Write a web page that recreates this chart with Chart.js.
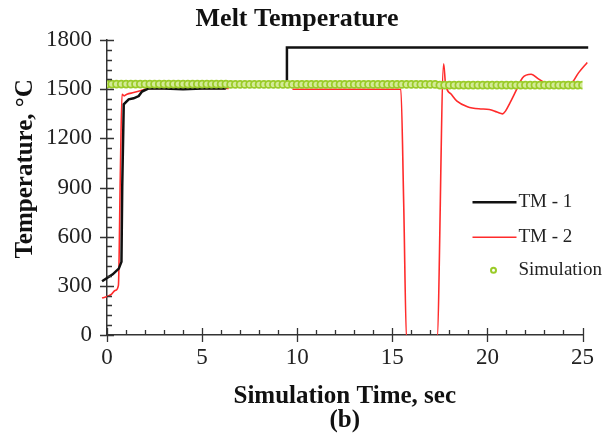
<!DOCTYPE html>
<html>
<head>
<meta charset="utf-8">
<script src="https://cdn.jsdelivr.net/npm/chart.js@4.4.1/dist/chart.umd.min.js"></script>
<style>
  html, body { margin: 0; padding: 0; background: #fff; }
  #wrap { width: 603px; height: 439px; }
</style>
</head>
<body>
<div id="wrap"><canvas id="melt"></canvas></div>
<script>
// TM - 1 thermocouple (black)
const tm1Time = [-0.26, 0.3, 0.62, 0.76, 0.8, 0.88, 1.14, 1.4, 1.67, 1.84, 2.19, 3.0, 4.0, 5.0, 6.2, 6.4, 9.45, 9.46, 25.3];
const tm1Temp = [328, 370, 405, 446, 900, 1408, 1439, 1445, 1459, 1486, 1506, 1505, 1500, 1505, 1505, 1530, 1530, 1755, 1755];

// TM - 2 thermocouple (red), null = gap in the record
const tm2Time = [-0.26, 0.2, 0.44, 0.6, 0.7, 0.79, 0.9, 1.05, 1.4, 1.84, 2.19, 4.0, 6.4, 8.0, 9.75, 15.45, 15.6, 15.75, 17.35, 17.7, 17.8, 18.1, 18.4, 18.95, 19.55, 20.1, 20.5, 20.8, 20.95, 21.2, 21.5, 21.85, 22.3, 22.7, 23.1, 23.8, 24.4, 24.8, 25.25];
const tm2Temp = [225, 245, 272, 303, 978, 1470, 1460, 1470, 1480, 1494, 1506, 1505, 1505, null, 1500, 1500, 800, -30, -30, 1656, 1531, 1470, 1428, 1394, 1381, 1377, 1361, 1350, 1367, 1420, 1490, 1571, 1592, 1562, 1535, 1520, 1535, 1602, 1664];

// Simulation (green circles)
const simTime = [
  0, 0.25, 0.5, 0.75, 1, 1.25, 1.5, 1.75, 2, 2.25, 2.5, 2.75, 3, 3.25, 3.5, 3.75, 4, 4.25, 4.5, 4.75,
  5, 5.25, 5.5, 5.75, 6, 6.25, 6.5, 6.75, 7, 7.25, 7.5, 7.75, 8, 8.25, 8.5, 8.75, 9, 9.25, 9.5, 9.75,
  10, 10.25, 10.5, 10.75, 11, 11.25, 11.5, 11.75, 12, 12.25, 12.5, 12.75, 13, 13.25, 13.5, 13.75, 14, 14.25, 14.5, 14.75,
  15, 15.25, 15.5, 15.75, 16, 16.25, 16.5, 16.75, 17, 17.25, 17.5, 17.75, 18, 18.25, 18.5, 18.75, 19, 19.25, 19.5, 19.75,
  20, 20.25, 20.5, 20.75, 21, 21.25, 21.5, 21.75, 22, 22.25, 22.5, 22.75, 23, 23.25, 23.5, 23.75, 24, 24.25, 24.5, 24.75, 25
];
const simTemp = [
  1532, 1532, 1532, 1532, 1532, 1532, 1532, 1532, 1532, 1532, 1532, 1532, 1532, 1532, 1532, 1532, 1532, 1532, 1532, 1532,
  1532, 1532, 1532, 1532, 1532, 1532, 1530, 1530, 1530, 1530, 1530, 1530, 1530, 1530, 1530, 1530, 1530, 1530, 1530, 1530,
  1530, 1530, 1530, 1530, 1530, 1530, 1530, 1530, 1530, 1530, 1530, 1530, 1530, 1530, 1530, 1530, 1530, 1530, 1530, 1530,
  1530, 1530, 1530, 1530, 1530, 1530, 1530, 1530, 1530, 1530, 1526, 1526, 1526, 1526, 1526, 1526, 1526, 1526, 1526, 1526,
  1526, 1526, 1526, 1526, 1526, 1526, 1526, 1526, 1526, 1526, 1526, 1526, 1526, 1526, 1526, 1526, 1526, 1526, 1526, 1526, 1526
];

const serif = "'Liberation Serif', 'Times New Roman', serif";

function pairs(xs, ys) {
    return xs.map((t, i) => ({ x: t, y: ys[i] }));
}

// cross ticks (major) and inside ticks (minor), like the original plot
const axisTicks = {
    id: 'axisTicks',
    afterDraw(chart) {
        const { ctx, chartArea: a, scales } = chart;
        const x = scales.x, y = scales.y;
        ctx.save();
        ctx.strokeStyle = '#333';
        ctx.lineWidth = 1.3;
        ctx.beginPath();
        for (let v = 0; v <= 1800; v += 60) {
            const py = Math.round(y.getPixelForValue(v)) + 0.5;
            const major = v % 300 === 0;
            ctx.moveTo(a.left - (major ? 7 : 0), py);
            ctx.lineTo(a.left + (major ? 7 : 5), py);
        }
        for (let t = 0; t <= 25; t += 1) {
            const px = Math.round(x.getPixelForValue(t)) + 0.5;
            const major = t % 5 === 0;
            ctx.moveTo(px, a.bottom + (major ? 7 : 0));
            ctx.lineTo(px, a.bottom - (major ? 7 : 5));
        }
        ctx.stroke();
        ctx.restore();
    }
};

// legend sitting inside the plot, on the right
const innerLegend = {
    id: 'innerLegend',
    afterDraw(chart) {
        const { ctx, chartArea: a } = chart;
        const rows = [chart.data.datasets[1], chart.data.datasets[2], chart.data.datasets[0]];
        const ys = [162, 197, 230];
        ctx.save();
        ctx.font = '19px ' + serif;
        ctx.textBaseline = 'middle';
        rows.forEach((ds, i) => {
            const yy = a.top + ys[i];
            if (ds.showLine === false) {
                ctx.beginPath();
                ctx.arc(a.right - 89, yy, 2.5, 0, Math.PI * 2);
                ctx.strokeStyle = ds.borderColor;
                ctx.lineWidth = 2;
                ctx.stroke();
            } else {
                ctx.beginPath();
                ctx.moveTo(a.right - 110, yy);
                ctx.lineTo(a.right - 66, yy);
                ctx.strokeStyle = ds.borderColor;
                ctx.lineWidth = ds.borderWidth;
                ctx.stroke();
            }
            ctx.fillStyle = '#222';
            ctx.fillText(ds.label, a.right - 64, yy);
        });
        ctx.restore();
    }
};

new Chart(document.getElementById('melt').getContext('2d'), {
    type: 'line',
    data: {
        datasets: [
            {
                label: 'Simulation',
                data: pairs(simTime, simTemp),
                showLine: false,
                pointRadius: 3.5,
                pointBorderWidth: 1.8,
                borderColor: '#9acb28',
                backgroundColor: '#d4eb98',
                order: 0
            },
            {
                label: 'TM - 1',
                data: pairs(tm1Time, tm1Temp),
                borderColor: '#111111',
                borderWidth: 2.5,
                pointRadius: 0,
                tension: 0,
                clip: { left: 8, top: 5, right: 8, bottom: 0 },
                order: 1
            },
            {
                label: 'TM - 2',
                data: pairs(tm2Time, tm2Temp),
                borderColor: '#ff2b2b',
                borderWidth: 1.6,
                pointRadius: 0,
                cubicInterpolationMode: 'monotone',
                spanGaps: false,
                clip: { left: 8, top: 5, right: 8, bottom: 0 },
                order: 2
            }
        ]
    },
    options: {
        responsive: true,
        maintainAspectRatio: false,
        animation: false,
        layout: { padding: { left: 11, right: 20, top: 2, bottom: 7 } },
        plugins: {
            legend: { display: false },
            tooltip: { enabled: false },
            title: {
                display: true,
                text: 'Melt Temperature',
                color: '#111',
                font: { family: serif, size: 26, weight: 'bold' },
                padding: { top: 2, bottom: 5 }
            }
        },
        scales: {
            x: {
                type: 'linear',
                min: 0,
                max: 25,
                ticks: { stepSize: 5, color: '#222', padding: 9, font: { family: serif, size: 23 }, callback: v => String(v) },
                grid: { drawOnChartArea: false, drawTicks: false },
                border: { color: '#333', width: 1.5 },
                title: {
                    display: true,
                    text: ['Simulation Time, sec', '(b)'],
                    color: '#111',
                    font: { family: serif, size: 25, weight: 'bold', lineHeight: 0.95 },
                    padding: { top: 4, bottom: 0 }
                }
            },
            y: {
                min: 0,
                max: 1800,
                ticks: { stepSize: 300, color: '#222', padding: 15, font: { family: serif, size: 23 }, callback: v => String(v) },
                grid: { drawOnChartArea: false, drawTicks: false },
                border: { color: '#333', width: 1.5 },
                title: {
                    display: true,
                    text: '      Temperature, \u00B0C',
                    color: '#111',
                    font: { family: serif, size: 25, weight: 'bold' },
                    padding: { top: 0, bottom: -10 }
                }
            }
        }
    },
    plugins: [axisTicks, innerLegend]
});
</script>
</body>
</html>
